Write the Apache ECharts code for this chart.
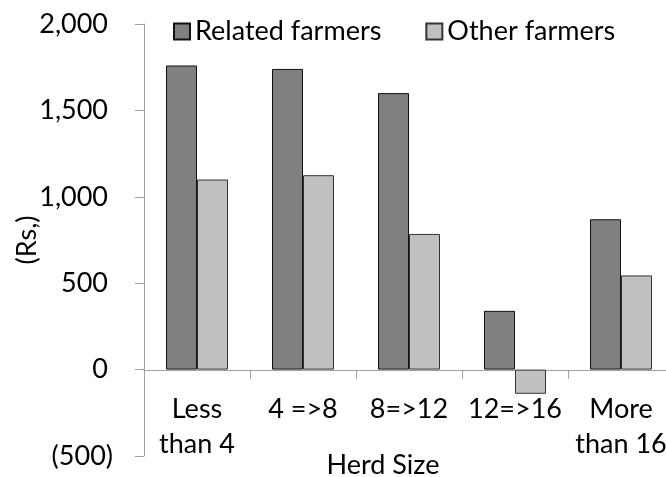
<!DOCTYPE html>
<html>
<head>
<meta charset="utf-8">
<script src="https://cdn.jsdelivr.net/npm/echarts@6/dist/echarts.min.js"></script>
<style>
  html, body { margin: 0; padding: 0; background: #fff; }
  #chart { width: 666px; height: 477px; }
</style>
</head>
<body>
<div id="chart"></div>
<script>
  var herdSizes = ['Less\nthan 4', '4 =>8', '8=>12', '12=>16', 'More\nthan 16'];
  var relatedFarmers = [1760, 1740, 1600, 340, 870];
  var otherFarmers = [1100, 1125, 785, -140, 545];
  var seriesNames = ['Related farmers', 'Other farmers'];

  var font = 'Lato';
  var fs = 27;
  var chart = echarts.init(document.getElementById('chart'));

  // Excel style number: 1,500 and (500) for negatives
  function fmt(v) {
    var s = Math.abs(v).toString().replace(/\B(?=(\d{3})+(?!\d))/g, ',');
    return v < 0 ? '(' + s + ')' : '{p|' + s + '}';
  }

  var option = {
    backgroundColor: '#fff',
    animation: false,
    textStyle: { fontFamily: font },
    legend: {
      left: 168,
      top: 13,
      icon: 'rect',
      itemWidth: 16,
      itemHeight: 16,
      itemGap: 44,
      textStyle: { fontFamily: font, fontSize: fs, color: '#000' },
      data: seriesNames
    },
    grid: {
      left: 144,
      top: 24,
      width: 530,
      bottom: 21,
      outerBoundsMode: 'none'
    },
    xAxis: {
      type: 'category',
      data: herdSizes,
      // sit the axis on the zero line (86px above the grid bottom)
      offset: -86,
      name: 'Herd Size',
      nameLocation: 'middle',
      nameGap: 82,
      nameMoveOverlap: false,
      nameTextStyle: { fontFamily: font, fontSize: fs, color: '#000', padding: [0, 52, 0, 0] },
      axisLine: { onZero: false, lineStyle: { color: '#a0a0a0', width: 1 } },
      axisTick: { show: true, length: 9, lineStyle: { color: '#a0a0a0', width: 1 } },
      axisLabel: {
        margin: 22,
        fontFamily: font,
        fontSize: fs,
        lineHeight: 35,
        color: '#000',
        interval: 0
      }
    },
    yAxis: {
      type: 'value',
      min: -500,
      max: 2000,
      interval: 500,
      name: '(Rs,)',
      nameLocation: 'middle',
      nameGap: 103,
      nameMoveOverlap: false,
      nameTextStyle: { fontFamily: font, fontSize: fs, color: '#000' },
      axisLine: { show: true, lineStyle: { color: '#a0a0a0', width: 1 } },
      axisTick: { show: true, length: 9, lineStyle: { color: '#a0a0a0' } },
      splitLine: { show: false },
      axisLabel: {
        margin: 31,
        fontFamily: font,
        fontSize: fs,
        color: '#000',
        formatter: fmt,
        rich: { p: { fontFamily: font, fontSize: fs, color: '#000', padding: [0, 5, 0, 0] } }
      }
    },
    series: [
      {
        name: seriesNames[0],
        type: 'bar',
        barWidth: 31,
        barGap: '0%',
        data: relatedFarmers,
        itemStyle: { color: '#808080', borderColor: '#111', borderWidth: 1 }
      },
      {
        name: seriesNames[1],
        type: 'bar',
        barWidth: 31,
        barGap: '0%',
        data: otherFarmers,
        itemStyle: { color: '#c0c0c0', borderColor: '#333', borderWidth: 1 }
      }
    ]
  };
  chart.setOption(option);
</script>
</body>
</html>
